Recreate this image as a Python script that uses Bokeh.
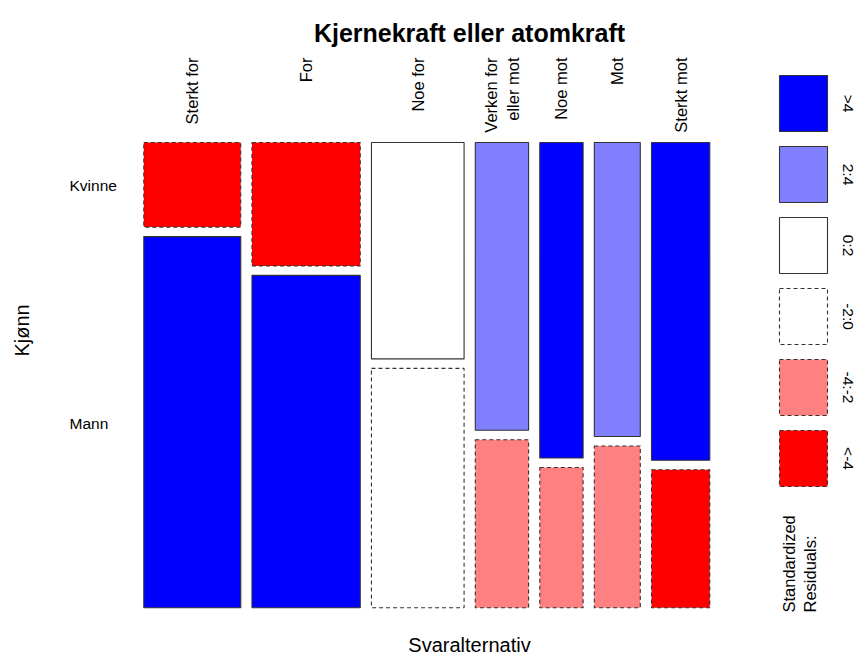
import numpy as np
from bokeh.plotting import figure
from bokeh.models import Range1d, ColumnDataSource
from bokeh.embed import file_html
from bokeh.resources import INLINE
from bokeh.core.properties import value

# ---------------- data ----------------
title = "Kjernekraft eller atomkraft"
x_title = "Svaralternativ"
y_title = "Kjønn"
answers = ["Sterkt for", "For", "Noe for", "Verken for\neller mot", "Noe mot", "Mot", "Sterkt mot"]
genders = ["Kvinne", "Mann"]
kvinne = [54, 88, 132, 101, 90, 89, 122]
mann = [237, 237, 146, 59, 40, 49, 53]
legend_labels = [">4", "2:4", "0:2", "-2:0", "-4:-2", "<-4"]
legend_colors = ["#0000FF", "#8080FF", "#FFFFFF", "#FFFFFF", "#FF8080", "#FF0000"]
legend_dashed = [False, False, False, True, True, True]
legend_title = "Standardized\nResiduals:"

# ---------------- layout constants (pixels) ----------------
W, H = 858, 657
X0, X1, COLGAP = 143.3, 709.3, 11.2
Y0, Y1, ROWGAP = 142.0, 607.3, 9.5
EDGE = "#333333"
FONT = value("Liberation Sans")

counts = np.array([kvinne, mann], dtype=float)
N = counts.sum()
col_tot = counts.sum(axis=0)
row_tot = counts.sum(axis=1)
expected = np.outer(row_tot, col_tot) / N
resid = (counts - expected) / np.sqrt(expected)


def shade(r):
    if r > 4:
        return 0
    if r > 2:
        return 1
    if r > 0:
        return 2
    if r > -2:
        return 3
    if r > -4:
        return 4
    return 5


avail_w = (X1 - X0) - COLGAP * (len(answers) - 1)
avail_h = (Y1 - Y0) - ROWGAP
widths = col_tot / N * avail_w

cells = {k: [] for k in ["left", "right", "top", "bottom", "color", "dashed"]}
col_centers = []
row_centers_first = []
x = X0
for j in range(len(answers)):
    left, right = x, x + widths[j]
    col_centers.append((left + right) / 2)
    y = Y0
    for i in range(len(genders)):
        h = counts[i, j] / col_tot[j] * avail_h
        top, bottom = y, y + h
        s = shade(resid[i, j])
        cells["left"].append(left)
        cells["right"].append(right)
        cells["top"].append(top)
        cells["bottom"].append(bottom)
        cells["color"].append(legend_colors[s])
        cells["dashed"].append(legend_dashed[s])
        if j == 0:
            row_centers_first.append((top + bottom) / 2)
        y = bottom + ROWGAP
    x = right + COLGAP

p = figure(width=W, height=H, output_backend="svg", toolbar_location=None,
           x_range=Range1d(0, W), y_range=Range1d(H, 0),
           min_border=0, outline_line_color=None)
p.axis.visible = False
p.grid.visible = False
p.background_fill_color = "white"
p.border_fill_color = "white"

for dashed in (False, True):
    idx = [k for k, d in enumerate(cells["dashed"]) if d == dashed]
    src = ColumnDataSource({k: [cells[k][i] for i in idx] for k in ["left", "right", "top", "bottom", "color"]})
    p.quad(left="left", right="right", top="top", bottom="bottom", source=src,
           fill_color="color", line_color=EDGE, line_width=1.1,
           line_dash="4 3" if dashed else "solid")

# legend boxes
LX0, LX1, LY0, LSTEP, LH = 779, 827, 75, 71, 56
for k, lab in enumerate(legend_labels):
    t = LY0 + k * LSTEP
    p.quad(left=[LX0], right=[LX1], top=[t], bottom=[t + LH],
           fill_color=legend_colors[k], line_color=EDGE, line_width=1.1,
           line_dash="4 3" if legend_dashed[k] else "solid")
    p.text(x=[848], y=[t + LH / 2], text=[lab], angle=-np.pi / 2,
           text_align="center", text_baseline="middle", text_font=FONT,
           text_font_size=value("15.5px"), text_color="black")

p.text(x=[799], y=[612], text=[legend_title], angle=np.pi / 2,
       text_align="left", text_baseline="middle", text_font=FONT,
       text_font_size=value("16.5px"), text_color="black", text_line_height=1.2)

# column labels
p.text(x=col_centers, y=[57] * len(answers), text=answers, angle=np.pi / 2,
       text_align="right", text_baseline="middle", text_font=FONT,
       text_font_size=value("16.5px"), text_color="black", text_line_height=1.25)

# row labels
p.text(x=[69] * len(genders), y=[c + 1 for c in row_centers_first], text=genders,
       text_align="left", text_baseline="middle", text_font=FONT,
       text_font_size=value("15.5px"), text_color="black")

# axis titles
p.text(x=[21], y=[330], text=[y_title], angle=np.pi / 2, text_align="center",
       text_baseline="middle", text_font=FONT, text_font_size=value("20px"),
       text_color="black")
p.text(x=[469], y=[655], text=[x_title], text_align="center",
       text_baseline="bottom", text_font=FONT, text_font_size=value("20px"),
       text_color="black")
p.text(x=[469], y=[32], text=[title], text_align="center",
       text_baseline="alphabetic", text_font=FONT, text_font_size=value("25px"),
       text_font_style="bold", text_color="black")

open("out.html", "w").write(file_html(p, INLINE))
